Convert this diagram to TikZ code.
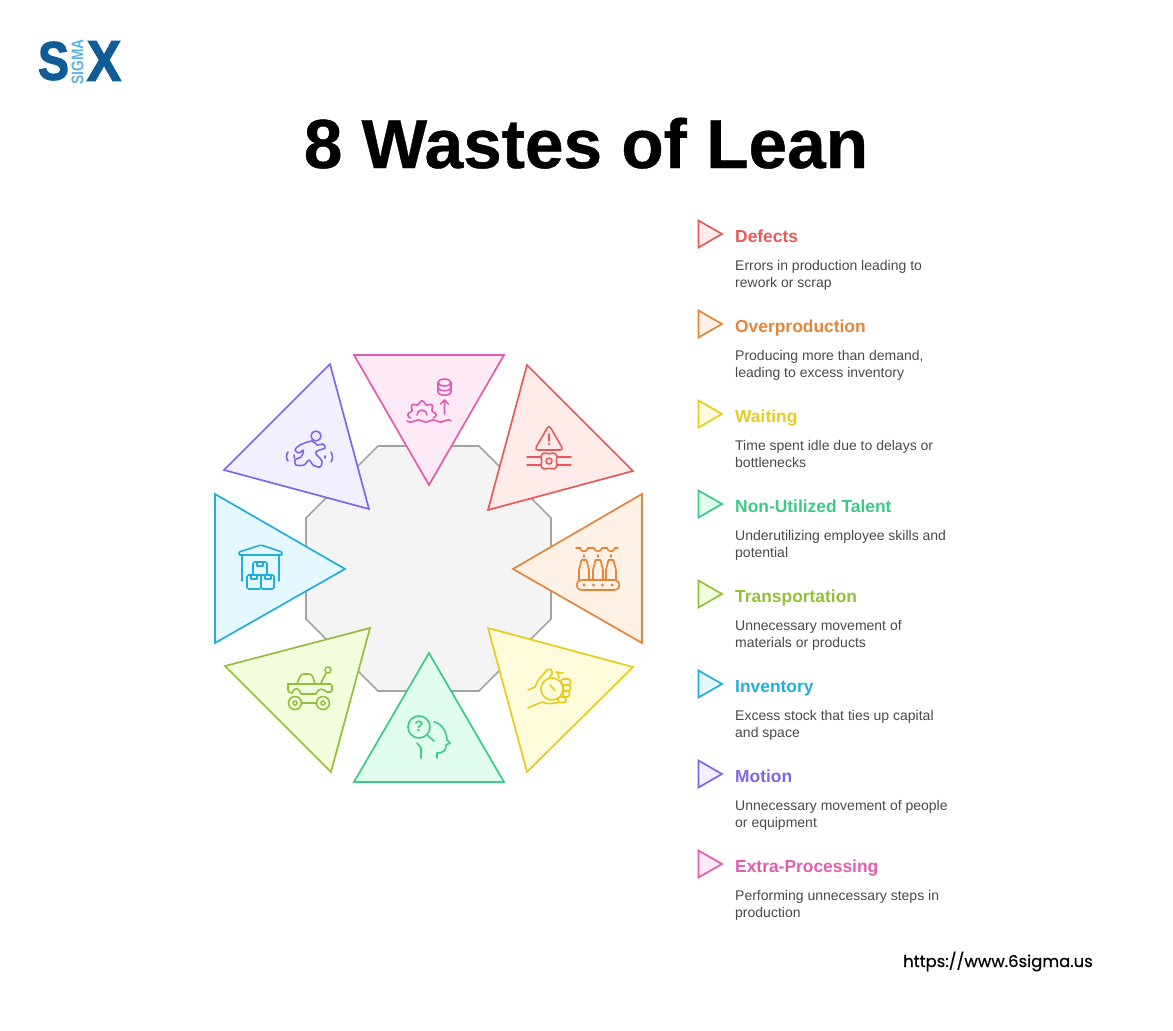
\documentclass[tikz,border=0pt]{standalone}
\usepackage{fontspec}
\setmainfont{Liberation Sans}
\newfontfamily\urlfont[FakeBold=.5]{Poppins}
\newfontfamily\logofont[UprightFont=* Bold, FakeBold=2.5]{Liberation Sans}
\newfontfamily\titlefont[UprightFont=* Bold, FakeBold=.6]{Liberation Sans}
\definecolor{redline}{HTML}{E85A5A}   \definecolor{redfill}{HTML}{FFEBE9}
\definecolor{orangeline}{HTML}{E5853A}\definecolor{orangefill}{HTML}{FFF1E5}
\definecolor{yellowline}{HTML}{E5CC1F}\definecolor{yellowfill}{HTML}{FFFBDB}
\definecolor{greenline}{HTML}{3CC98A} \definecolor{greenfill}{HTML}{E0FDEE}
\definecolor{limeline}{HTML}{95BF3A}  \definecolor{limefill}{HTML}{F3FEDD}
\definecolor{blueline}{HTML}{22AEDD}  \definecolor{bluefill}{HTML}{E6F8FF}
\definecolor{purpleline}{HTML}{7F66EB}\definecolor{purplefill}{HTML}{F2F0FF}
\definecolor{pinkline}{HTML}{E35CAE}  \definecolor{pinkfill}{HTML}{FEEAF7}
\definecolor{logodark}{HTML}{0F5C97}  \definecolor{logolight}{HTML}{5DB3E6}
\definecolor{bodytext}{HTML}{4A4A4A}
\tikzset{
    wastetri/.style={line width=1.7pt, line join=miter},
    iconline/.style={line width=1.6pt, line cap=round, line join=round},
    wastehead/.style={anchor=base west, inner sep=0pt, font=\fontsize{17.4}{20}\selectfont\bfseries},
    wastetext/.style={anchor=base west, inner sep=0pt, text=bodytext, font=\fontsize{14}{16}\selectfont},
}

\begin{document}
\begin{tikzpicture}[x=1pt,y=-1pt]
    \useasboundingbox (0,0) rectangle (1173,1031);
    \fill[white] (0,0) rectangle (1173,1031);

    % logo and title
    \node[inner sep=0pt, text=logodark, font=\logofont\fontsize{54}{54}\selectfont, xscale=.86] (logoS) at (53.5,61) {S};
    \node[inner sep=0pt, text=logolight, font=\fontsize{13.5}{14}\selectfont\bfseries, rotate=90, xscale=1.02, yscale=1.25] (logoSigma) at (77.5,62) {SIGMA};
    \node[inner sep=0pt, text=logodark, font=\logofont\fontsize{57}{57}\selectfont, xscale=.9] (logoX) at (104,61) {X};
    \node[anchor=base, inner sep=0pt, font=\titlefont\fontsize{69.4}{72}\selectfont] (title) at (586,168) {8 Wastes of Lean};

    % octagon behind the triangles
    \draw[line width=1.6pt, draw=black!36, fill=black!4.5] (378,446) -- (479,446) -- (551,518) -- (551,619)
        -- (479,691) -- (378,691) -- (306,619) -- (306,518) -- cycle;

    % the eight triangles
    \draw[wastetri, draw=pinkline, fill=pinkfill] (354,355) -- (504,355) -- (429,485) -- cycle;
    \draw[wastetri, draw=redline, fill=redfill] (527,365) -- (633,471) -- (488,510) -- cycle;
    \draw[wastetri, draw=orangeline, fill=orangefill] (642,494) -- (642,643) -- (513,569) -- cycle;
    \draw[wastetri, draw=yellowline, fill=yellowfill] (633,667) -- (527,772) -- (488,628) -- cycle;
    \draw[wastetri, draw=greenline, fill=greenfill] (504,782) -- (354,782) -- (429,653) -- cycle;
    \draw[wastetri, draw=limeline, fill=limefill] (331,772) -- (225,666) -- (370,628) -- cycle;
    \draw[wastetri, draw=blueline, fill=bluefill] (215,494) -- (215,643) -- (345,569) -- cycle;
    \draw[wastetri, draw=purpleline, fill=purplefill] (330,364) -- (224,470) -- (369,509) -- cycle;

    % extra-processing icon
    \begin{scope}[iconline, draw=pinkline]
        \draw (444.5,382.5) ellipse [x radius=6.5, y radius=3.5];
        \draw (438,382.5) -- (438,391.5) .. controls (438,396.5) and (451,396.5) .. (451,391.5) -- (451,382.5);
        \draw (438,387) .. controls (438,392) and (451,392) .. (451,387);
        \draw (444.5,414) -- (444.5,400) (440.5,404) -- (444.5,400) -- (448.5,404);
        \draw plot[smooth, samples=60, domain=165:375] ([shift={(422,415)}]\x:{12.5+1.6*cos(8*\x)});
        \draw (417,415) arc[start angle=180, end angle=360, radius=5];
        \draw plot[smooth, samples=45, domain=0:44] ({407+\x},{421+sin(\x*24)});
    \end{scope}

    % defects icon
    \begin{scope}[iconline, draw=redline]
        \draw[rounded corners=3.5pt] (549,425) -- (563.5,450) -- (534.5,450) -- cycle;
        \draw (549,434) -- (549,441);
        \fill[redline] (549,444) circle (1.4);
        \draw (527,457) -- (541,457) (527,465) -- (541,465) (557,457) -- (571,457) (557,465) -- (571,465);
        \draw plot[smooth cycle, samples=36, domain=0:350] ([shift={(549,461)}]\x:{8.5+1.2*cos(4*(\x-45))});
        \draw (549,461) circle (3);
    \end{scope}

    % overproduction icon
    \begin{scope}[iconline, draw=orangeline]
        \foreach \cx in {584,598,611} {
            \draw (\cx-4,548) .. controls (\cx-3,552.5) and (\cx+3,552.5) .. (\cx+4,548);
            \draw (\cx,555) -- (\cx,557);
            \draw (\cx-5,580) -- (\cx-5,570) -- (\cx-2.5,560) -- (\cx+2.5,560) -- (\cx+5,570) -- (\cx+5,580);
        }
        \draw (576,548) -- (580,548) (588,548) -- (594,548) (602,548) -- (607,548) (615,548) -- (618,548);
        \draw[rounded corners=5pt] (576.5,580) rectangle (619.5,590);
        \foreach \cx in {584,593.5,602.5,612} {
            \fill[orangeline] (\cx,585) circle (1.6);
        }
    \end{scope}

    % waiting icon
    \begin{scope}[iconline, draw=yellowline]
        \draw (552,689) circle (11);
        \draw (550,685) -- (555,690.5);
        \draw (559,678) -- (558,673) (556,672) -- (563,673);
        \draw[rounded corners=2.5pt] (561,679) rectangle (570.5,685);
        \draw[rounded corners=2.5pt] (563,685) rectangle (570.5,691);
        \draw[rounded corners=2.5pt] (563,691) rectangle (569.5,697);
        \draw[rounded corners=2.5pt] (558,697) rectangle (566,702.5);
        \draw (528,690) -- (535,687) .. controls (537,684) and (537,681) .. (539,679)
              -- (547,670) .. controls (550,668) and (553,670) .. (552,674) -- (549,678);
        \draw (528,708) -- (542,702) .. controls (546,704) and (550,704) .. (558,702.5);
    \end{scope}

    % non-utilized talent icon
    \begin{scope}[iconline, draw=greenline]
        \draw (419,727) circle (11);
        \node[inner sep=0pt, text=greenline, font=\fontsize{15}{15}\selectfont\bfseries] (talentmark) at (419,726.5) {?};
        \draw (427,735) -- (434,741);
        \draw (434,722) .. controls (442,723) and (447,733) .. (447,740) -- (450,743) -- (446,745)
              .. controls (446,750) and (444,753) .. (437,753) -- (437,758);
        \draw (417,743) -- (421,748) -- (421,758);
    \end{scope}

    % transportation icon
    \begin{scope}[iconline, draw=limeline]
        \draw (295,703) circle (6.5) (295,703) circle (2);
        \draw (323,703) circle (6.5) (323,703) circle (2);
        \draw (301.5,703) -- (316.5,703);
        \draw[rounded corners=2pt] (288,684) -- (332,684) -- (332,692) -- (327,692);
        \draw (288,684) -- (288,690) .. controls (288,692) and (290,693) .. (292,693)
              .. controls (294,687) and (299,687) .. (301,694) -- (316,694)
              .. controls (318,688) and (322,688) .. (327,692);
        \draw[rounded corners=3pt] (297,684) -- (301,674) -- (312,674) -- (315,684);
        \draw (321,683) -- (326,673);
        \draw (328,670) circle (3);
    \end{scope}

    % inventory icon
    \begin{scope}[iconline, draw=blueline]
        \draw[rounded corners=1pt] (239,552) -- (261,545) -- (282,552) -- (282,555) -- (239,555) -- cycle;
        \draw (242,555) -- (242,581) (279,555) -- (279,581);
        \draw[rounded corners=1.5pt] (253,562) rectangle (267,575);
        \draw[rounded corners=1.5pt] (247,575) rectangle (261,589);
        \draw[rounded corners=1.5pt] (261,575) rectangle (274,589);
        \draw (257,562) -- (257,566) -- (263,566) -- (263,562);
        \draw (251,575) -- (251,579) -- (257,579) -- (257,575);
        \draw (265,575) -- (265,579) -- (271,579) -- (271,575);
    \end{scope}

    % motion icon
    \begin{scope}[iconline, draw=purpleline]
        \draw (316,436) circle (5);
        \draw plot[smooth cycle] coordinates {(300,445) (312,441) (317,445) (323,444) (325,448) (317,451) (316,454)
            (322,461) (320,467) (313,465) (309,460) (304,465) (296,465) (295,460) (301,457) (303,453) (303,450)
            (299,453) (295,450)};
        \draw (288,452) .. controls (286,455) and (286,458) .. (288,461);
        \draw (294,455) -- (294.5,458);
        \draw (331,452) .. controls (333,455) and (333,459) .. (331,462);
        \draw (325,456) -- (325,458);
    \end{scope}

    % legend on the right
    \foreach \ya/\k/\nm/\head/\la/\lb in {
        0/red/defects/Defects/{Errors in production leading to}/{rework or scrap},
        90/orange/overproduction/Overproduction/{Producing more than demand,}/{leading to excess inventory},
        180/yellow/waiting/Waiting/{Time spent idle due to delays or}/{bottlenecks},
        270/green/talent/Non-Utilized Talent/{Underutilizing employee skills and}/{potential},
        360/lime/transportation/Transportation/{Unnecessary movement of}/{materials or products},
        450/blue/inventory/Inventory/{Excess stock that ties up capital}/{and space},
        540/purple/motion/Motion/{Unnecessary movement of people}/{or equipment},
        630/pink/processing/Extra-Processing/{Performing unnecessary steps in}/{production}} {
        \draw[wastetri, draw=\k line, fill=\k fill] (698.5,220.5+\ya) -- (698.5,247.5+\ya) -- (722,234+\ya) -- cycle;
        \node[wastehead, text=\k line] (\nm head) at (735,242+\ya) {\head};
        \node[wastetext] (\nm one) at (735,270.5+\ya) {\la};
        \node[wastetext] (\nm two) at (735,287.5+\ya) {\lb};
    }

    \node[anchor=base west, inner sep=0pt, font=\urlfont\fontsize{16.4}{20}\selectfont] (url) at (903,967) {https://www.6sigma.us};
\end{tikzpicture}
\end{document}
